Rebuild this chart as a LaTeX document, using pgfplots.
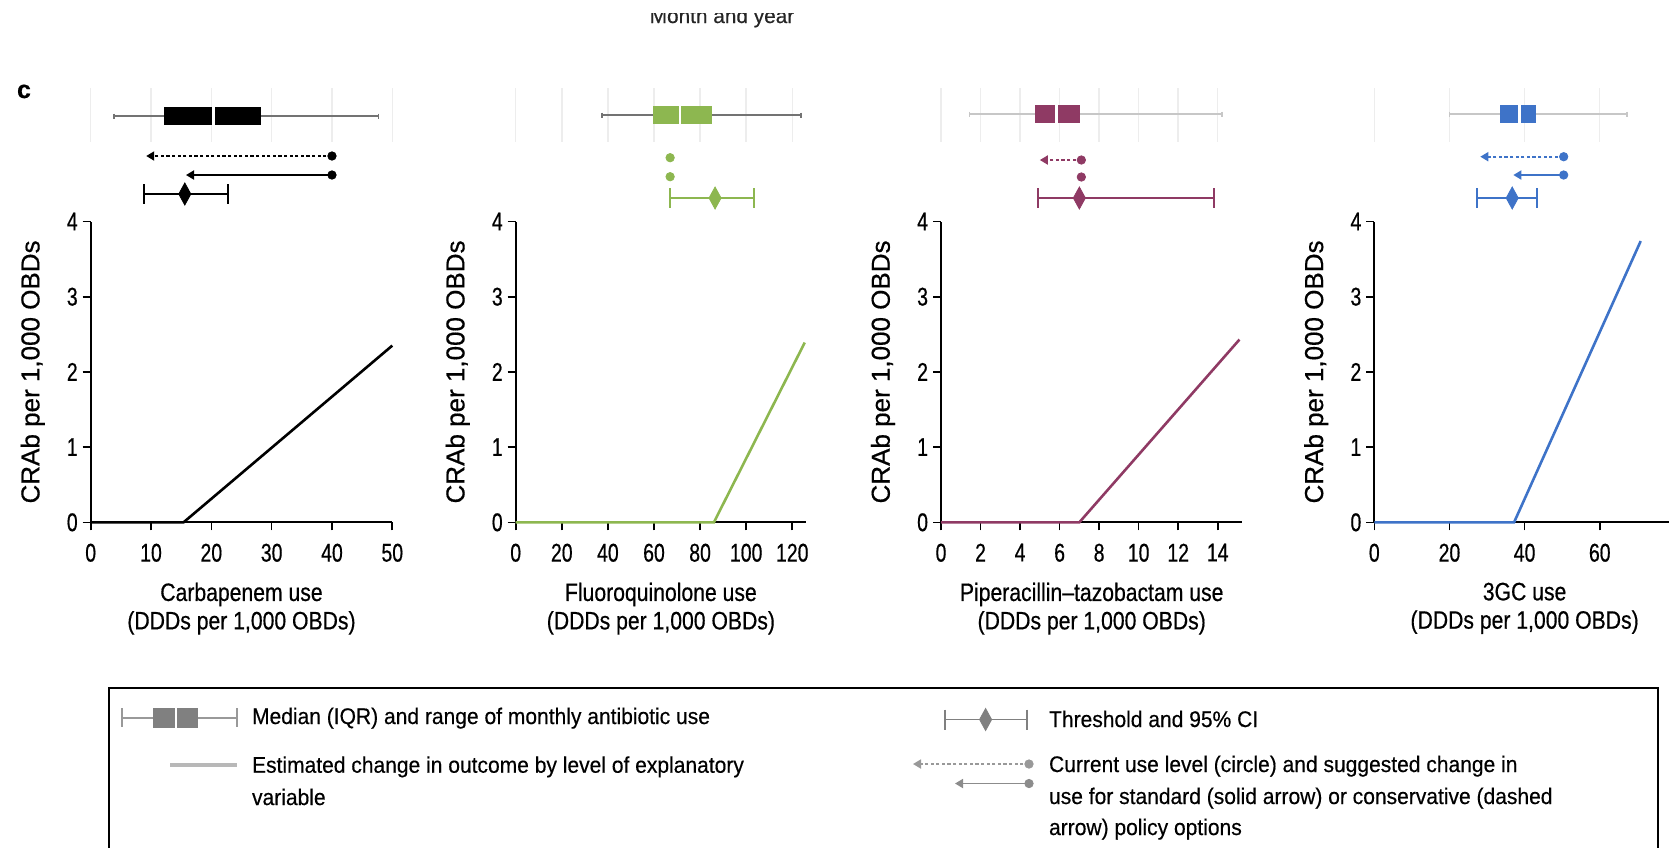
\documentclass[border=0pt]{standalone}
\usepackage{pgfplots}
\pgfplotsset{compat=1.18}
\usepgfplotslibrary{statistics}
\usetikzlibrary{arrows.meta}
\usepackage{fontspec}
\setmainfont{Liberation Sans}[FakeStretch=0.84, FakeBold=0.5]
\newfontfamily\tickfont{Liberation Sans}[FakeStretch=0.76, FakeBold=0.5]
\newfontfamily\legfont{Liberation Sans}[FakeStretch=0.93, FakeBold=0.4]
\newfontfamily\ylabfont{Liberation Sans}[FakeBold=0.5]

\definecolor{cgreen}{RGB}{141,183,80}
\definecolor{cplum}{RGB}{143,58,100}
\definecolor{cblue}{RGB}{62,115,200}

\pgfplotsset{
 mainax/.style={
  scale only axis, height=150.4pt,
  ymin=0, ymax=4, ytick={0,1,2,3,4}, xmin=0,
  axis lines*=left, tick align=outside, major tick length=4pt,
  axis line style={line width=0.9pt}, tick style={line width=0.8pt, black},
  clip=false,
  /pgf/number format/assume math mode=true,
  ticklabel style={font=\tickfont\fontsize{12.8}{14}\selectfont, inner sep=0pt},
  xticklabel style={anchor=north, yshift=-6.5pt},
  yticklabel style={anchor=east, xshift=-2.3pt},
  every axis x label/.style={at={(rel axis cs:0.5,0)}, anchor=north, yshift=-30pt, align=center, inner sep=0pt, font=\fontsize{12.6}{14.2}\selectfont},
  every axis y label/.style={at={(rel axis cs:0,0.5)}, xshift=-29pt, rotate=90, anchor=center, inner sep=0pt, font=\ylabfont\fontsize{13}{15}\selectfont},
  ylabel={CRAb per 1,000 OBDs},
 },
 stripax/.style={
  scale only axis, height=27pt, ymin=88, ymax=142, y dir=reverse, xmin=0,
  axis line style={draw=none}, tick style={draw=none}, major tick length=0pt,
  xticklabels={}, ytick=\empty, xmajorgrids, major grid style={black!7, line width=0.7pt},
  clip=false,
 },
}

% box: fill, whisker colour, lw, lq, med, uq, uw, position
\newcommand{\boxp}[8]{\addplot[#2, line width=0.8pt, boxplot prepared={lower whisker=#3, lower quartile=#4, median=#5, upper quartile=#6, upper whisker=#7, draw position=#8, box extend=18, whisker extend=5, draw direction=x, every box/.style={fill=#1, draw=none}, every median/.style={draw=white, line width=1.3pt}, every whisker/.style={draw=#2, line width=0.9pt}}] coordinates {};}
\newcommand{\darrow}[4]{\addplot[#1, line width=0.9pt, dash pattern=on 1.6pt off 1.2pt, -{Triangle[length=4pt,width=4.5pt]}] coordinates {(#2,#4) (#3,#4)};}
\newcommand{\sarrow}[4]{\addplot[#1, line width=0.9pt, -{Triangle[length=4pt,width=4.5pt]}] coordinates {(#2,#4) (#3,#4)};}
\newcommand{\curdot}[3]{\addplot[#1, only marks, mark=*, mark size=2.1pt] coordinates {(#2,#3)};}
\newcommand{\thr}[5]{\addplot[#1, line width=0.9pt, mark=|, mark size=5pt, mark options={solid}] coordinates {(#2,#5) (#4,#5)};
 \addplot[#1, only marks, mark=diamond*, mark size=5.5pt, mark options={xscale=0.73}] coordinates {(#3,#5)};}

\begin{document}
\begin{tikzpicture}
\useasboundingbox (0,0) rectangle (834.5pt,-423.5pt);

% overlay axis: legend, labels
\begin{axis}[at={(0pt,0pt)}, anchor=north west, scale only axis, width=834.5pt, height=423.5pt,
  xmin=0, xmax=1669, ymin=0, ymax=847, y dir=reverse, hide axis, clip=false]
\draw[black, line width=1pt] (axis cs:109,688) rectangle (axis cs:1658,900);
\addplot[boxplot prepared={lower whisker=121.7, lower quartile=152.7, median=176, upper quartile=198.3, upper whisker=236.7, draw position=717.7, box extend=20, whisker extend=19, draw direction=x, every box/.style={fill=black!50, draw=none}, every median/.style={draw=white, line width=1.3pt}, every whisker/.style={draw=black!40, line width=0.8pt}}] coordinates {};
\addplot[black!28, line width=2pt] coordinates {(170,765) (237.3,765)};
\thr{black!50}{945}{985.6}{1027}{719.5}
\darrow{black!40}{1029}{913}{764}
\sarrow{black!45}{1029}{955}{783.5}
\curdot{black!40}{1029}{764}
\curdot{black!45}{1029}{783.5}
\node[font=\legfont\fontsize{11.3}{13}\selectfont, anchor=base west] at (axis cs:245,724) {Median (IQR) and range of monthly antibiotic use};
\node[font=\legfont\fontsize{11.3}{13}\selectfont, anchor=base west] at (axis cs:245,772.7) {Estimated change in outcome by level of explanatory};
\node[font=\legfont\fontsize{11.3}{13}\selectfont, anchor=base west] at (axis cs:245,805) {variable};
\node[font=\legfont\fontsize{11.3}{13}\selectfont, anchor=base west] at (axis cs:1042,727) {Threshold and 95\% CI};
\node[font=\legfont\fontsize{11.3}{13}\selectfont, anchor=base west] at (axis cs:1042,772) {Current use level (circle) and suggested change in};
\node[font=\legfont\fontsize{11.3}{13}\selectfont, anchor=base west] at (axis cs:1042,804) {use for standard (solid arrow) or conservative (dashed};
\node[font=\legfont\fontsize{11.3}{13}\selectfont, anchor=base west] at (axis cs:1042,835) {arrow) policy options};
\node[font=\ylabfont\bfseries\fontsize{12.5}{14}\selectfont, anchor=base] at (axis cs:24,98) {c};
\node[font=\ylabfont\fontsize{10.4}{12}\selectfont, anchor=base, text=black!85] at (axis cs:722,23) {Month and year};
\fill[white] (axis cs:600,-10) rectangle (axis cs:850,13);
\end{axis}

% ---------- Panel 1: carbapenem ----------
\begin{axis}[mainax, at={(45.35pt,-261.15pt)}, anchor=south west, width=150.8pt, xmax=50, xtick={0,10,...,50},
  xlabel={Carbapenem use\\(DDDs per 1,000 OBDs)}]
\addplot[black, line width=1.3pt] coordinates {(0,0) (15.4,0) (50,2.35)};
\end{axis}
\begin{axis}[stripax, at={(45.35pt,-44pt)}, anchor=north west, width=150.8pt, xmax=50, xtick={0,10,...,50}]
\boxp{black}{black!55}{3.9}{12.2}{20.4}{28.2}{47.7}{116}
\darrow{black}{40}{9.2}{156}
\sarrow{black}{40}{15.8}{175}
\curdot{black}{40}{156}
\curdot{black}{40}{175}
\thr{black}{8.9}{15.6}{22.7}{194}
\end{axis}

% ---------- Panel 2: fluoroquinolone ----------
\begin{axis}[mainax, at={(257.85pt,-261.15pt)}, anchor=south west, width=145.2pt, xmax=126, xtick={0,20,...,120},
  xlabel={Fluoroquinolone use\\(DDDs per 1,000 OBDs)}]
\addplot[cgreen, line width=1.3pt] coordinates {(0,0) (86,0) (125.4,2.39)};
\end{axis}
\begin{axis}[stripax, at={(257.85pt,-44pt)}, anchor=north west, width=145.2pt, xmax=126, xtick={0,20,...,120}]
\boxp{cgreen}{black!55}{37.3}{59.6}{71.3}{85}{123.7}{115}
\curdot{cgreen}{67}{157.7}
\curdot{cgreen}{67}{176.7}
\thr{cgreen}{66.8}{86.5}{103.5}{198}
\end{axis}

% ---------- Panel 3: piperacillin-tazobactam ----------
\begin{axis}[mainax, at={(470.5pt,-261.15pt)}, anchor=south west, width=150.7pt, xmax=15.25, xtick={0,2,...,14},
  xlabel={Piperacillin--tazobactam use\\(DDDs per 1,000 OBDs)}]
\addplot[cplum, line width=1.3pt] coordinates {(0,0) (7.0,0) (15.1,2.43)};
\end{axis}
\begin{axis}[stripax, at={(470.5pt,-44pt)}, anchor=north west, width=150.7pt, xmax=15.25, xtick={0,2,...,14}]
\boxp{cplum}{black!22}{1.44}{4.73}{5.85}{7.05}{14.2}{114}
\darrow{cplum}{7.1}{5.0}{160}
\curdot{cplum}{7.1}{160}
\curdot{cplum}{7.1}{177}
\thr{cplum}{4.9}{7.0}{13.8}{198}
\end{axis}

% ---------- Panel 4: 3GC ----------
\begin{axis}[mainax, at={(687.15pt,-261.15pt)}, anchor=south west, width=150.3pt, xmax=80, xtick={0,20,40,60},
  xlabel={3GC use\\(DDDs per 1,000 OBDs)}]
\addplot[cblue, line width=1.3pt] coordinates {(0,0) (37.2,0) (70.9,3.74)};
\end{axis}
\begin{axis}[stripax, at={(687.15pt,-44pt)}, anchor=north west, width=150.3pt, xmax=80, xtick={0,20,40,60}]
\boxp{cblue}{black!22}{20}{33.5}{38.6}{43}{67.2}{114}
\darrow{cblue}{50.4}{28.2}{156.7}
\sarrow{cblue}{50.4}{37}{175}
\curdot{cblue}{50.4}{156.7}
\curdot{cblue}{50.4}{175}
\thr{cblue}{27.4}{36.7}{43.3}{198}
\end{axis}
\end{tikzpicture}
\end{document}
